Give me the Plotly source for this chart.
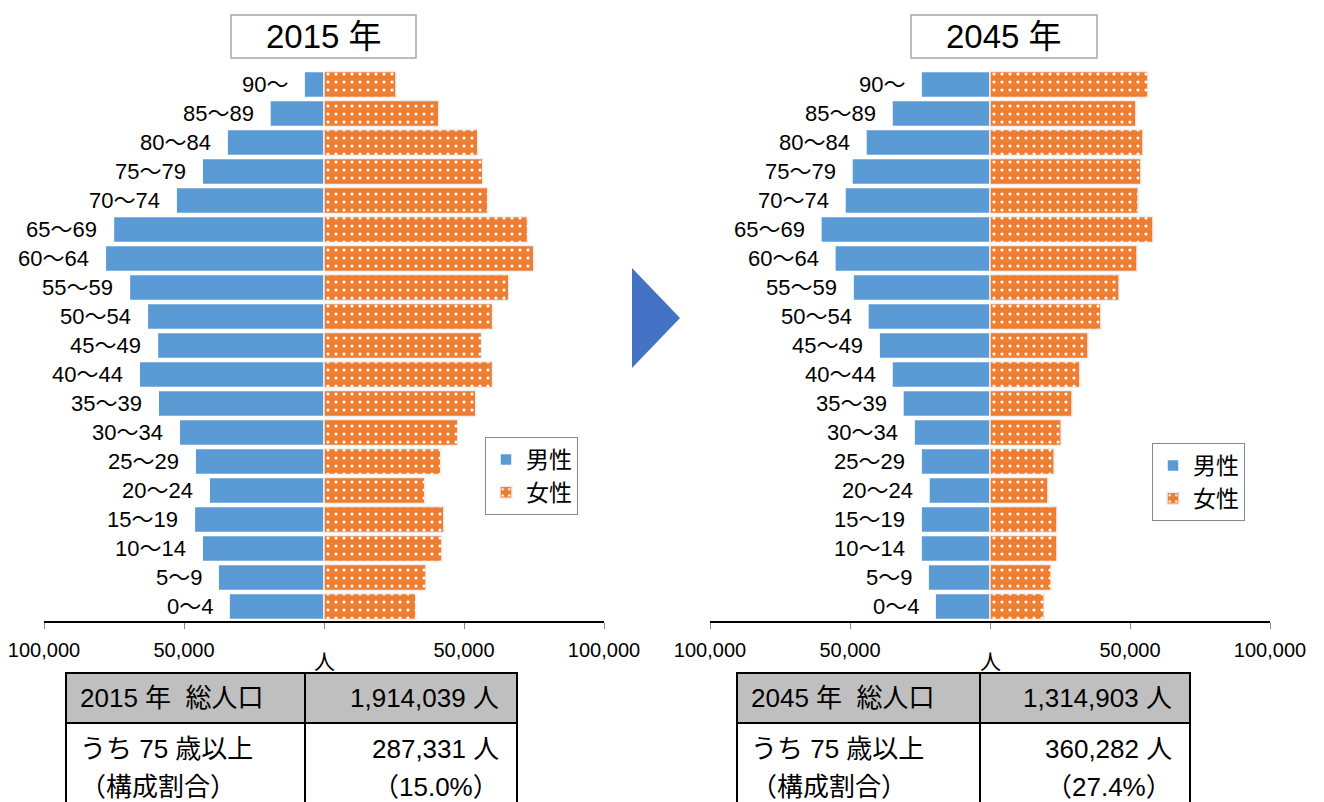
import plotly.graph_objects as go

W, H = 1324, 802

age_groups = ["0～4", "5～9", "10～14", "15～19", "20～24", "25～29", "30～34", "35～39",
              "40～44", "45～49", "50～54", "55～59", "60～64", "65～69", "70～74",
              "75～79", "80～84", "85～89", "90～"]

male_2015 = [33900, 37800, 43500, 46300, 41000, 46000, 51700, 59200, 66000, 59500,
             63100, 69500, 78100, 75200, 52800, 43500, 34600, 19300, 7100]
female_2015 = [32800, 36400, 42100, 42800, 36000, 41700, 47800, 54200, 60200, 56300,
               60200, 66000, 74900, 72700, 58500, 56700, 54900, 41000, 25700]
male_2045 = [19600, 22100, 24600, 24600, 21800, 24600, 27100, 31100, 35000, 39600,
             43600, 48900, 55400, 60400, 51800, 49300, 44300, 35000, 24600]
female_2045 = [19300, 21800, 23900, 23900, 20700, 22900, 25400, 29300, 32100, 35000,
               39600, 46100, 52500, 58200, 52900, 53900, 54600, 52100, 56400]

years = ["2015 年", "2045 年"]
series_names = ["男性", "女性"]
tick_vals = [-100000, -50000, 0, 50000, 100000]
tick_text = ["100,000", "50,000", "", "50,000", "100,000"]
unit_label = "人"

table_rows = [
    [["2015 年  総人口", "1,914,039 人"], ["うち 75 歳以上", "287,331 人"], ["（構成割合）", "（15.0%）"]],
    [["2045 年  総人口", "1,314,903 人"], ["うち 75 歳以上", "360,282 人"], ["（構成割合）", "（27.4%）"]],
]

MALE_C = "#5B9BD5"
FEMALE_C = "#ED7D31"
FONT = "Arial, Liberation Sans, Noto Sans CJK JP"


def px(x):
    return x / W


def py(y):
    return 1 - y / H


fig = go.Figure()

datasets = [(male_2015, female_2015), (male_2045, female_2045)]
legends = ["legend", "legend2"]
annotations = []

for i, (m, f) in enumerate(datasets):
    xa = "x" if i == 0 else "x2"
    ya = "y" if i == 0 else "y2"
    fig.add_trace(go.Bar(
        y=age_groups, x=[-v for v in m], orientation="h", name=series_names[0],
        marker=dict(color=MALE_C, line=dict(color="white", width=1.5)),
        xaxis=xa, yaxis=ya, legend=legends[i], hoverinfo="skip",
    ))
    fig.add_trace(go.Bar(
        y=age_groups, x=f, orientation="h", name=series_names[1],
        marker=dict(color=FEMALE_C, line=dict(color="#eeeeee", width=1.5),
                    pattern=dict(shape=".", fgcolor="white", bgcolor=FEMALE_C,
                                 size=8, solidity=0.12, fillmode="replace")),
        xaxis=xa, yaxis=ya, legend=legends[i], hoverinfo="skip",
    ))
    # category labels placed at the end of each male bar
    for cat, v in zip(age_groups, m):
        annotations.append(dict(text=cat, xref=xa, yref=ya, x=-v, y=cat, showarrow=False,
                                xanchor="right", yanchor="middle", xshift=-14,
                                font=dict(size=22, color="black", family=FONT)))

ydom = [py(621), py(70)]
axis_common = dict(range=[-100000, 100000], tickvals=tick_vals, ticktext=tick_text,
                   showgrid=False, zeroline=False, showline=True, linecolor="black",
                   linewidth=1.5, ticks="outside", ticklen=6, tickcolor="#888",
                   automargin=False, ticklabelstandoff=4, ticklabeloverflow="allow",
                   tickfont=dict(size=20, color="black", family=FONT), fixedrange=True)
yaxis_common = dict(domain=ydom, range=[-0.5, 18.5], showticklabels=False, showgrid=False,
                    zeroline=False, showline=False, automargin=False, fixedrange=True)
fig.update_layout(
    xaxis=dict(domain=[px(44), px(604)], anchor="y", **axis_common),
    xaxis2=dict(domain=[px(710), px(1270)], anchor="y2", **axis_common),
    yaxis=dict(anchor="x", **yaxis_common),
    yaxis2=dict(anchor="x2", **yaxis_common),
    barmode="overlay", bargap=0.1,
    width=W, height=H, margin=dict(l=0, r=0, t=0, b=0, autoexpand=False),
    paper_bgcolor="white", plot_bgcolor="white",
    font=dict(family=FONT, color="black"),
    legend=dict(x=px(485), y=py(437), xanchor="left", yanchor="top",
                bordercolor="#888", borderwidth=1, bgcolor="white",
                font=dict(size=23, family=FONT), itemclick=False, itemwidth=30),
    legend2=dict(x=px(1152), y=py(443), xanchor="left", yanchor="top",
                 bordercolor="#888", borderwidth=1, bgcolor="white",
                 font=dict(size=23, family=FONT), itemclick=False, itemwidth=30),
)

shapes = []

# titles
title_boxes = [(231, 416), (911, 1097)]
for i, (x0, x1) in enumerate(title_boxes):
    shapes.append(dict(type="rect", xref="paper", yref="paper", x0=px(x0), x1=px(x1),
                       y0=py(58), y1=py(15), line=dict(color="#a6a6a6", width=1.5),
                       fillcolor="white", layer="below"))
    annotations.append(dict(text=years[i], xref="paper", yref="paper",
                            x=px((x0 + x1) / 2), y=py(37), showarrow=False,
                            xanchor="center", yanchor="middle",
                            font=dict(size=33, color="black", family=FONT)))

# unit label under zero
for xa in ["x", "x2"]:
    annotations.append(dict(text=unit_label, xref=xa, yref="paper", x=0, y=py(661),
                            showarrow=False, xanchor="center", yanchor="middle",
                            font=dict(size=21, color="black", family=FONT)))

# arrow triangle
shapes.append(dict(type="path", xref="paper", yref="paper",
                   path=f"M {px(632)},{py(268)} L {px(680)},{py(318)} L {px(632)},{py(368)} Z",
                   fillcolor="#4472C4", line=dict(width=0)))

# tables
tables = [(66, 305, 517), (737, 980, 1190)]
for i, (x0, xm, x1) in enumerate(tables):
    shapes.append(dict(type="rect", xref="paper", yref="paper", x0=px(x0), x1=px(x1),
                       y0=py(723), y1=py(673), fillcolor="#BFBFBF",
                       line=dict(color="black", width=2)))
    shapes.append(dict(type="rect", xref="paper", yref="paper", x0=px(x0), x1=px(x1),
                       y0=py(830), y1=py(723), fillcolor="rgba(0,0,0,0)",
                       line=dict(color="black", width=2)))
    shapes.append(dict(type="line", xref="paper", yref="paper", x0=px(xm), x1=px(xm),
                       y0=py(830), y1=py(673), line=dict(color="black", width=2)))
    rows = table_rows[i]
    row_y = [698, 749, 787]
    for r, (lt, rt) in enumerate(rows):
        annotations.append(dict(text=lt, xref="paper", yref="paper", x=px(x0 + 12),
                                y=py(row_y[r]), showarrow=False, xanchor="left",
                                yanchor="middle", font=dict(size=26, color="black", family=FONT)))
        annotations.append(dict(text=rt, xref="paper", yref="paper", x=px(x1 - 16),
                                y=py(row_y[r]), showarrow=False, xanchor="right",
                                yanchor="middle", font=dict(size=26, color="black", family=FONT)))

fig.update_layout(shapes=shapes, annotations=annotations)

fig.write_html("out.html", config={"displayModeBar": False},
               post_script="document.body.style.margin='0';")
